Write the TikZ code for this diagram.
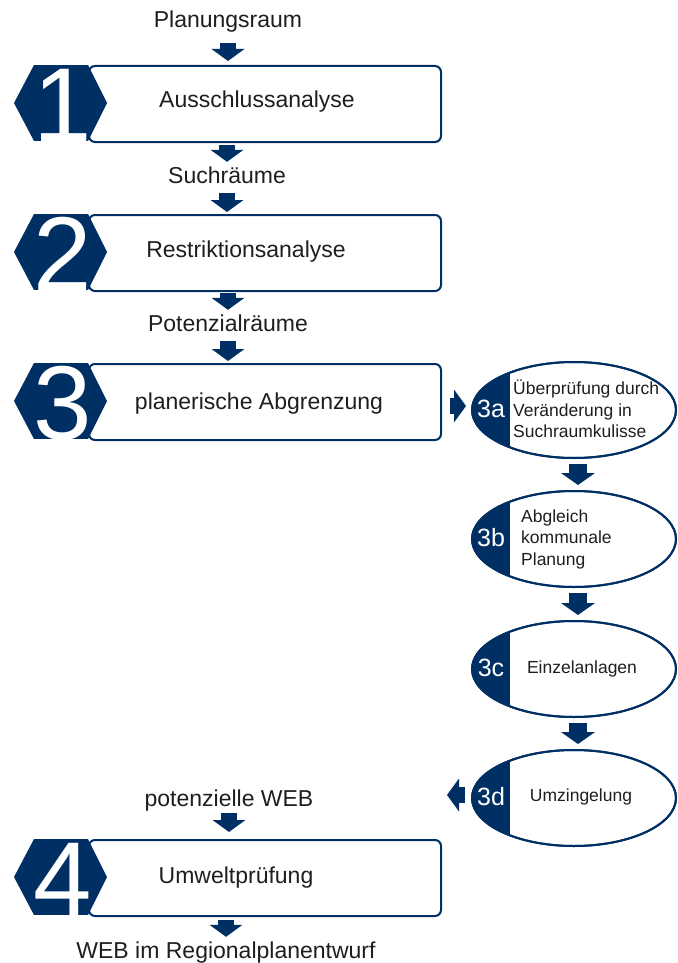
\documentclass[tikz,border=0pt]{standalone}
\usepackage{fontspec}
\setmainfont{Liberation Sans}
\usetikzlibrary{arrows.meta,calc,shapes.geometric}
\definecolor{navy}{RGB}{0,48,99}
\definecolor{ink}{RGB}{30,30,30}
\newcommand\HexNum[3]{%
  \begin{scope}
    \clip (14,#1+38) -- (34,#1) -- (88,#1) -- (107,#1+38) -- (88,#1+76) -- (34,#1+76) -- cycle;
    \fill[navy] (0,#1) rectangle (120,#1+76);
    \node[digit] (#3) at (63,#1+76) {#2};
  \end{scope}}
\newcommand\OvalStep[3]{%
  \node[oval] (#1) at (574,#2) {};
  \begin{scope}
    \clip (574,#2) ellipse [x radius=102, y radius=48];
    \fill[navy] (468,#2-52) rectangle (510,#2+52);
  \end{scope}
  \node[oval] at (574,#2) {};
  \node[steplbl] (#1l) at (491,#2-1) {#3};}
\begin{document}
\begin{tikzpicture}[x=1pt,y=-1pt,
  lbl/.style={font=\fontsize{23}{27}\selectfont, text=ink, inner sep=0pt, text height=17pt, text depth=5pt},
  small/.style={font=\fontsize{17.5}{21.5}\selectfont, text=ink, inner sep=0pt, align=left},
  mainbox/.style={draw=navy, line width=2pt, rounded corners=6pt, minimum width=352pt, minimum height=76pt, inner sep=0pt, anchor=north west},
  oval/.style={ellipse, draw=navy, line width=2pt, minimum width=204pt, minimum height=96pt, inner sep=0pt},
  steplbl/.style={font=\fontsize{25}{25}\selectfont, text=white, inner sep=0pt},
  digit/.style={font=\fontsize{105}{105}\selectfont, text=white, inner sep=0pt, anchor=base},
  blk/.style={draw=navy, line width=16pt, -{Triangle[width=33pt,length=12pt,line width=0pt]}},
  sblk/.style={draw=navy, line width=18pt, -{Triangle[width=34pt,length=12pt,line width=0pt]}},
  ]
\useasboundingbox (0,0) rectangle (677,963);

% main column
\node[lbl] (plan) at (228,22) {Planungsraum};
\node[mainbox] (box1) at (88,65) {};
\node[lbl] (t1) at (257,101) {Ausschlussanalyse};
\node[lbl] (such) at (227,177) {Suchräume};
\node[mainbox] (box2) at (88,214) {};
\node[lbl] (t2) at (246,251) {Restriktionsanalyse};
\node[lbl] (pot) at (228,325) {Potenzialräume};
\node[mainbox] (box3) at (88,363) {};
\node[lbl] (t3) at (259,403) {planerische Abgrenzung};
\node[lbl] (pweb) at (229,800) {potenzielle WEB};
\node[mainbox] (box4) at (88,839) {};
\node[lbl] (t4) at (236,877) {Umweltprüfung};
\node[lbl] (web) at (226,952) {WEB im Regionalplanentwurf};

\HexNum{65}{1}{h1}
\HexNum{214}{2}{h2}
\HexNum{363}{3}{h3}
\HexNum{839}{4}{h4}

% side column
\OvalStep{e3a}{410}{3a}
\node[small, anchor=west] (x3a) at (513,409) {Überprüfung durch\\Veränderung in\\Suchraumkulisse};
\OvalStep{e3b}{539}{3b}
\node[small, anchor=west] (x3b) at (521,539) {Abgleich\\kommunale\\Planung};
\OvalStep{e3c}{669}{3c}
\node[small] (x3c) at (582,669) {Einzelanlagen};
\OvalStep{e3d}{798}{3d}
\node[small] (x3d) at (581,797) {Umzingelung};

% arrows
\draw[blk, shorten <=10pt, shorten >=4pt] (plan.south) -- (plan.south |- box1.north);
\draw[blk, shorten <=2pt, shorten >=4pt] (such.north |- box1.south) -- (such.north);
\draw[blk, shorten <=5pt, shorten >=2pt] (such.south) -- (such.south |- box2.north);
\draw[blk, shorten <=1pt, shorten >=4pt] (pot.north |- box2.south) -- (pot.north);
\draw[blk, shorten <=5pt, shorten >=2pt] (pot.south) -- (pot.south |- box3.north);
\draw[blk, shorten <=2pt, shorten >=7pt] (pweb.south) -- (pweb.south |- box4.north);
\draw[blk, shorten <=3pt, shorten >=4pt] (web.north |- box4.south) -- (web.north);

\draw[blk, shorten <=8pt, shorten >=5pt] ([yshift=-4pt]box3.east) -- ([yshift=-4pt]box3.east -| e3a.west);
\coordinate (left3d) at (447,795);
\draw[blk, shorten <=6pt] (e3d.west |- left3d) -- (left3d);

\draw[sblk, shorten <=5pt, shorten >=5pt] ([xshift=4pt]e3a.south) -- ([xshift=4pt]e3b.north);
\draw[sblk, shorten <=5pt, shorten >=5pt] ([xshift=4pt]e3b.south) -- ([xshift=4pt]e3c.north);
\draw[sblk, shorten <=5pt, shorten >=5pt] ([xshift=4pt]e3c.south) -- ([xshift=4pt]e3d.north);
\end{tikzpicture}
\end{document}
